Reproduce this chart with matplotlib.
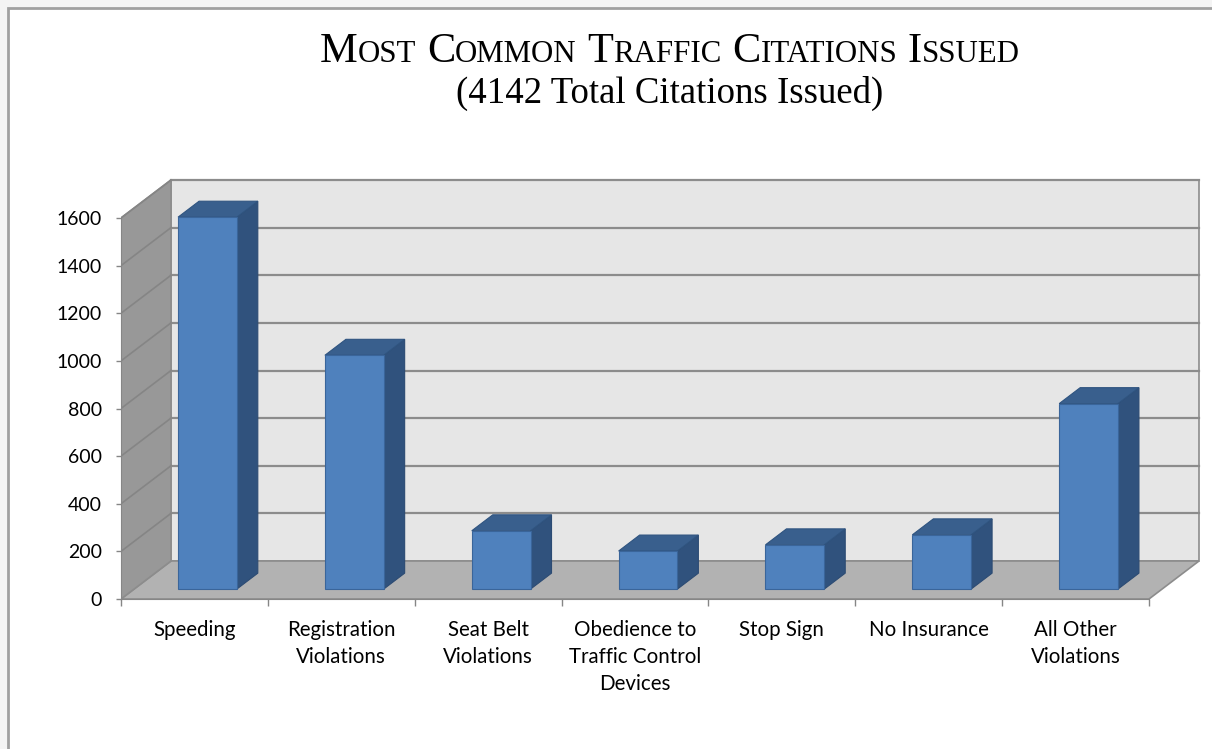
import matplotlib
matplotlib.use('Agg')
import matplotlib.pyplot as plt
from matplotlib.patches import Polygon, Rectangle
import numpy as np

# ---------------- data ----------------
categories = ["Speeding", "Registration\nViolations", "Seat Belt\nViolations",
              "Obedience to\nTraffic Control\nDevices", "Stop Sign",
              "No Insurance", "All Other\nViolations"]
citations = [1562, 982, 245, 160, 186, 228, 779]
y_ticks = [0, 200, 400, 600, 800, 1000, 1200, 1400, 1600]
title_line1 = "Most Common Traffic Citations Issued"
title_line2 = "(4142 Total Citations Issued)"

# ---------------- figure ----------------
W, H = 1212, 749
fig = plt.figure(figsize=(W / 100, H / 100), dpi=100)
fig.patch.set_facecolor('#F4F4F4')
fig.patches.append(Rectangle((8 / W, -0.1), 1.2, 1.1 - 8 / H, transform=fig.transFigure,
                             facecolor='white', edgecolor='#A0A0A0', lw=2, zorder=-5))

n = len(categories)
px_per_x = (1149 - 121) / n
px_per_y = (599 - 218) / y_ticks[-1]
xmax, ymax = 7.4, 1800
ax = fig.add_axes([121 / W, 1 - 599 / H, xmax * px_per_x / W, ymax * px_per_y / H])
ax.set_zorder(2)
ax.set_xlim(0, xmax)
ax.set_ylim(0, ymax)
ax.patch.set_visible(False)

DX = 50 / px_per_x
DY = 38 / px_per_y
top = y_ticks[-1]
grid_c = '#8C8C8C'

# back wall
ax.add_patch(Polygon([(DX, DY), (n + DX, DY), (n + DX, top + DY), (DX, top + DY)],
                     closed=True, facecolor='#E6E6E6', edgecolor=grid_c, lw=1.2, zorder=1))
# floor
ax.add_patch(Polygon([(0, 0), (n, 0), (n + DX, DY), (DX, DY)],
                     closed=True, facecolor='#B2B2B2', edgecolor=grid_c, lw=1.2, zorder=1))
# side wall
ax.add_patch(Polygon([(0, 0), (DX, DY), (DX, top + DY), (0, top)],
                     closed=True, facecolor='#989898', edgecolor=grid_c, lw=1.2, zorder=1))
# gridlines
for t in y_ticks[1:]:
    ax.plot([DX, n + DX], [t + DY, t + DY], color=grid_c, lw=1.6, zorder=2)
    ax.plot([0, DX], [t, t + DY], color='#858585', lw=1.2, zorder=2)

# bars
f0, f1 = 0.26, 0.68
bw = 0.40
xs = np.arange(n) + 0.5 + f0 * DX
y0 = f0 * DY
ddx = (f1 - f0) * DX
ddy = (f1 - f0) * DY
ax.bar(xs, citations, width=bw, bottom=y0, color='#4F81BD', edgecolor='#3A659A',
       lw=0.8, zorder=5)
for x, v in zip(xs, citations):
    xr = x + bw / 2
    xl = x - bw / 2
    ax.add_patch(Polygon([(xr, y0), (xr + ddx, y0 + ddy), (xr + ddx, y0 + v + ddy), (xr, y0 + v)],
                         closed=True, facecolor='#30527D', edgecolor='#2C4B73', lw=0.8, zorder=4))
    ax.add_patch(Polygon([(xl, y0 + v), (xr, y0 + v), (xr + ddx, y0 + v + ddy), (xl + ddx, y0 + v + ddy)],
                         closed=True, facecolor='#395F8D', edgecolor='#2F5480', lw=0.8, zorder=4))

# axes / spines
for s in ['top', 'right']:
    ax.spines[s].set_visible(False)
ax.spines['left'].set_bounds(0, top)
ax.spines['bottom'].set_bounds(0, n)
ax.spines['left'].set_color('#868686')
ax.spines['bottom'].set_color('#868686')
ax.spines['left'].set_zorder(3)
ax.spines['bottom'].set_zorder(3)

lab_font = 'Lato'
ax.set_yticks(y_ticks)
ax.set_yticklabels([str(t) for t in y_ticks], fontfamily=lab_font, fontsize=14)
ax.tick_params(axis='y', direction='out', length=3.6, width=1, color='#868686', pad=10)
ax.set_xticks(np.arange(n + 1))
ax.set_xticklabels([])
ax.set_xticks(np.arange(n) + 0.5, minor=True)
ax.set_xticklabels(categories, minor=True, fontfamily=lab_font, fontsize=14.8)
ax.tick_params(axis='x', which='major', direction='out', length=5, width=1, color='#868686')
ax.tick_params(axis='x', which='minor', length=0, pad=15)
for lab in ax.get_xticklabels(minor=True):
    lab.set_linespacing(1.45)

# ---------------- title (small caps) ----------------
renderer = fig.canvas.get_renderer()
serif = 'Liberation Serif'


def small_caps(text, center_px, base_px, big, small):
    items = []
    for w_i, word in enumerate(text.split(' ')):
        items.append((word[0].upper(), big, w_i > 0))
        if len(word) > 1:
            items.append((word[1:].upper(), small, False))
    gap = 0.25 * big * 100 / 72
    objs = []
    total = 0
    for s, size, lead in items:
        t = fig.text(0, 1 - base_px / H, s, fontsize=size, family=serif,
                     va='baseline', ha='left', color='black')
        w = t.get_window_extent(renderer).width
        if lead:
            total += gap
        objs.append((t, total))
        total += w
    start = center_px - total / 2
    for t, off in objs:
        t.set_x((start + off) / W)


small_caps(title_line1, 670, 62, 30.5, 22.2)
fig.text(670 / W, 1 - 103 / H, title_line2, fontsize=26.5, family=serif,
         ha='center', va='baseline', color='black')

fig.savefig('out.png', dpi=100, facecolor=fig.get_facecolor())
